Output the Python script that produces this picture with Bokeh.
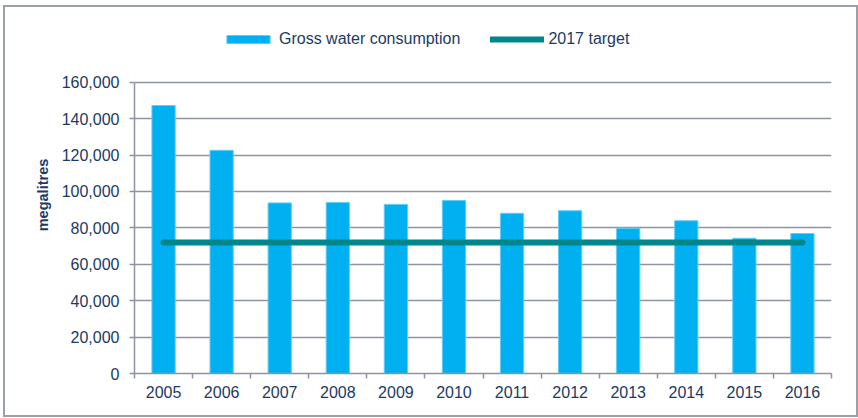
from bokeh.plotting import figure
from bokeh.models import (ColumnDataSource, FixedTicker, NumeralTickFormatter,
                          Legend, LegendItem, Range1d)
from bokeh.embed import file_html
from bokeh.resources import INLINE

years = ["2005", "2006", "2007", "2008", "2009", "2010",
         "2011", "2012", "2013", "2014", "2015", "2016"]
consumption = [147200, 122600, 93700, 93900, 92900, 95000,
               88000, 89400, 79800, 83900, 74300, 76900]
target_2017 = 72000
y_ticks = [0, 20000, 40000, 60000, 80000, 100000, 120000, 140000, 160000]

TEXT = "#1b3a65"
GRID = "#8d93a0"
BAR = "#00b0f0"
LINE = "#00868b"
FONT = "Liberation Sans"

# layout (page pixels): frame spans 20..373 vertically, axis top (160k) at 85
FRAME_TOP, AXIS_TOP, FRAME_BOTTOM = 20, 85, 373
y_end = y_ticks[-1] * (FRAME_BOTTOM - FRAME_TOP) / (FRAME_BOTTOM - AXIS_TOP)

xpos = [i + 0.5 for i in range(len(years))]
src = ColumnDataSource(dict(x=xpos, y=consumption, year=years))

p = figure(width=851, height=408, output_backend="svg", toolbar_location=None,
           x_range=Range1d(0, len(years)), y_range=Range1d(0, y_end),
           min_border_left=129, min_border_right=29, min_border_top=9,
           min_border_bottom=46)
p.outline_line_color = None
p.background_fill_color = "white"
p.border_fill_color = "white"
p.styles = {"box-sizing": "content-box", "border": "2px solid #9aa0ab",
            "margin-left": "3px", "margin-top": "5px"}

bars = p.vbar(x="x", top="y", width=0.4, source=src, fill_color=BAR,
              line_color="#62cdf4", line_width=1)
line = p.line(x=[xpos[0], xpos[-1]], y=[target_2017, target_2017],
              line_color=LINE, line_width=6, line_cap="round")

# x axis
xa = p.xaxis[0]
xa.ticker = FixedTicker(ticks=xpos, minor_ticks=list(range(len(years) + 1)))
xa.major_label_overrides = {x: y for x, y in zip(xpos, years)}
xa.major_tick_line_color = None
xa.minor_tick_line_color = GRID
xa.minor_tick_line_width = 1.5
xa.minor_tick_out = 5
xa.minor_tick_in = 0
xa.axis_line_color = GRID
xa.axis_line_width = 1.5
xa.major_label_text_font = FONT
xa.major_label_text_font_size = "16px"
xa.major_label_text_color = TEXT
xa.major_label_standoff = 6

# y axis
ya = p.yaxis[0]
ya.ticker = FixedTicker(ticks=y_ticks, minor_ticks=[])
ya.bounds = (y_ticks[0], y_ticks[-1])
ya.formatter = NumeralTickFormatter(format="0,0")
ya.major_tick_line_color = GRID
ya.major_tick_line_width = 1.5
ya.major_tick_out = 5
ya.major_tick_in = 0
ya.axis_line_color = GRID
ya.axis_line_width = 1.5
ya.major_label_text_font = FONT
ya.major_label_text_font_size = "16px"
ya.major_label_text_color = TEXT
ya.major_label_standoff = 10
ya.axis_label = "megalitres"
ya.axis_label_text_font = FONT
ya.axis_label_text_font_style = "bold"
ya.axis_label_text_font_size = "14.5px"
ya.axis_label_text_color = TEXT
ya.axis_label_standoff = 8

p.xgrid.grid_line_color = None
p.ygrid.grid_line_color = GRID
p.ygrid.grid_line_width = 1.5

legend = Legend(items=[LegendItem(label="Gross water consumption", renderers=[bars]),
                       LegendItem(label="2017 target", renderers=[line])],
                orientation="horizontal", location=(87, 324),
                glyph_width=54, glyph_height=10, label_height=20,
                label_standoff=4, spacing=30, padding=0, margin=0,
                border_line_color=None, background_fill_alpha=0,
                label_text_font=FONT, label_text_font_size="16px",
                label_text_color=TEXT)
p.add_layout(legend, "center")

open("out.html", "w").write(file_html(p, INLINE))
